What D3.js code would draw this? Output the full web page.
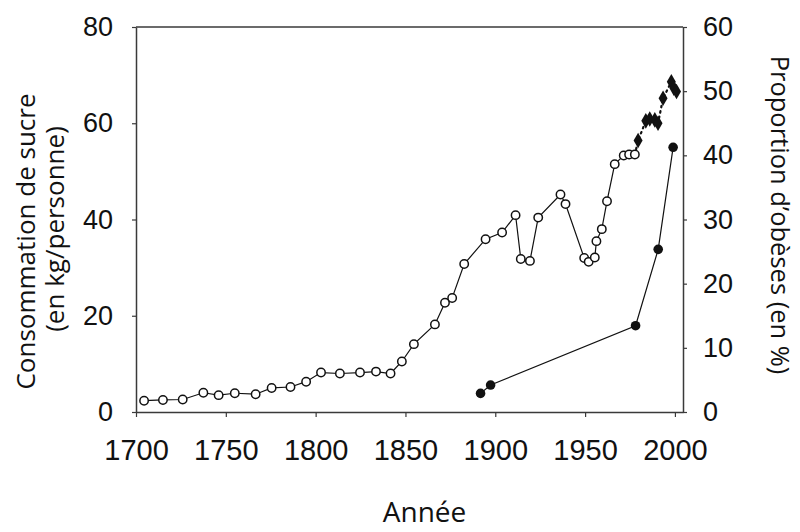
<!DOCTYPE html>
<html><head><meta charset="utf-8">
<script src="https://cdn.jsdelivr.net/npm/d3@7"></script>
<style>
html,body{margin:0;padding:0;background:#fff;}
svg{display:block;}
</style></head>
<body>
<svg id="chart" width="800" height="532"></svg>
<script>
// Sugar consumption (kg/person), historical series (open circles)
const sugarYears = [1704.5,1715,1726,1737.5,1746,1755,1766.6,1775.5,1786,1794.7,1803,1813.5,1824.7,1833.6,1841.7,1848,1854.7,1866.4,1872,1876,1882.7,1894.6,1903.8,1911.3,1914.2,1919.3,1923.9,1936.3,1939.1,1949.5,1952,1955.4,1956.3,1959.3,1962.2,1966.5,1971.5,1974.5,1977.7];
const sugarValues = [2.35,2.5,2.6,4.0,3.5,3.9,3.7,5.0,5.2,6.3,8.2,8.0,8.2,8.4,8.0,10.5,14.1,18.2,22.7,23.7,30.75,35.9,37.3,40.9,31.8,31.4,40.4,45.2,43.2,32.0,31.2,32.1,35.5,38.0,43.8,51.5,53.3,53.5,53.5];
// Sugar consumption, recent series (diamonds, dotted)
const recentYears = [1979.5,1983.8,1986,1988.8,1990.6,1993.4,1998,1999.4,2000.9];
const recentValues = [56.4,60.5,60.9,60.7,60.0,65.2,68.6,67.3,66.6];
// Obesity proportion (%) (filled circles, right axis)
const obeseYears = [1891.8,1897.4,1978.1,1990.7,1999];
const obeseValues = [2.9,4.2,13.45,25.35,41.25];
// Ticks
const xTicks = [1700,1750,1800,1850,1900,1950,2000];
const yLeftTicks = [0,20,40,60,80];
const yRightTicks = [0,10,20,30,40,50,60];

const svg = d3.select("#chart");
const L = 136, R = 683, T = 27, B = 412;
const x = d3.scaleLinear().domain([1700, 2004.5]).range([L, R]);
const yL = d3.scaleLinear().domain([0, 80]).range([B, T]);
const yR = d3.scaleLinear().domain([0, 60]).range([B, T]);

const axisColor = "#3a3a3a";
const tickFont = "'Liberation Sans', Arial, sans-serif";

// frame top line
svg.append("line").attr("x1", L).attr("x2", R).attr("y1", T).attr("y2", T)
  .attr("stroke", axisColor).attr("stroke-width", 1.5);

const gx = svg.append("g").attr("transform", `translate(0,${B})`)
  .call(d3.axisBottom(x).tickValues(xTicks).tickFormat(d3.format("d")).tickSize(5).tickSizeOuter(0).tickPadding(22));
const gl = svg.append("g").attr("transform", `translate(${L},0)`)
  .call(d3.axisLeft(yL).tickValues(yLeftTicks).tickSize(4).tickSizeOuter(0).tickPadding(19));
const gr = svg.append("g").attr("transform", `translate(${R},0)`)
  .call(d3.axisRight(yR).tickValues(yRightTicks).tickSize(4).tickSizeOuter(0).tickPadding(16));

[gx, gl, gr].forEach(g => {
  g.select(".domain").attr("stroke", axisColor).attr("stroke-width", 1.5);
  g.selectAll(".tick line").attr("stroke", axisColor).attr("stroke-width", 1.2);
  g.selectAll(".tick text").attr("fill", "#111").attr("font-family", tickFont);
});
gx.selectAll(".tick text").attr("font-size", 29);
gl.selectAll(".tick text").attr("font-size", 27);
gr.selectAll(".tick text").attr("font-size", 27);

// lines
const lineL = d3.line().x(d => x(d[0])).y(d => yL(d[1]));
const lineR = d3.line().x(d => x(d[0])).y(d => yR(d[1]));
const sugarPts = sugarYears.map((yr, i) => [yr, sugarValues[i]]);
const recentPts = recentYears.map((yr, i) => [yr, recentValues[i]]);
const obesePts = obeseYears.map((yr, i) => [yr, obeseValues[i]]);

// dotted connection for recent series
svg.append("path")
  .attr("d", lineL([sugarPts[sugarPts.length - 1]].concat(recentPts)))
  .attr("fill", "none").attr("stroke", "#111").attr("stroke-width", 2.2)
  .attr("stroke-dasharray", "1.5,4").attr("stroke-linecap", "round");

svg.append("path").attr("d", lineL(sugarPts))
  .attr("fill", "none").attr("stroke", "#111").attr("stroke-width", 1.2);
svg.append("path").attr("d", lineR(obesePts))
  .attr("fill", "none").attr("stroke", "#111").attr("stroke-width", 1.2);

// markers
svg.selectAll("circle.sugar").data(sugarPts).enter().append("circle")
  .attr("class", "sugar")
  .attr("cx", d => x(d[0])).attr("cy", d => yL(d[1])).attr("r", 4.2)
  .attr("fill", "#fff").attr("stroke", "#111").attr("stroke-width", 1.5);

svg.selectAll("path.recent").data(recentPts).enter().append("path")
  .attr("class", "recent")
  .attr("d", d3.symbol().type(d3.symbolDiamond).size(70))
  .attr("transform", d => `translate(${x(d[0])},${yL(d[1])})`)
  .attr("fill", "#111");

svg.selectAll("circle.obese").data(obesePts).enter().append("circle")
  .attr("class", "obese")
  .attr("cx", d => x(d[0])).attr("cy", d => yR(d[1])).attr("r", 4.8)
  .attr("fill", "#111");

// titles
const titleFont = "'Open Sans', 'Noto Sans', sans-serif";
svg.append("text").attr("x", 424.5).attr("y", 522).attr("text-anchor", "middle")
  .attr("font-family", titleFont).attr("font-size", 28).attr("fill", "#111").text("Année");
svg.append("text").attr("transform", "translate(35,241.5) rotate(-90)").attr("text-anchor", "middle")
  .attr("font-family", titleFont).attr("font-size", 26).attr("fill", "#111").text("Consommation de sucre");
svg.append("text").attr("transform", "translate(64,229) rotate(-90)").attr("text-anchor", "middle")
  .attr("font-family", titleFont).attr("font-size", 26).attr("fill", "#111").text("(en kg/personne)");
svg.append("text").attr("transform", "translate(771,215) rotate(90)").attr("text-anchor", "middle")
  .attr("font-family", titleFont).attr("font-size", 25.5).attr("fill", "#111").text("Proportion d’obèses (en %)");
</script>
</body></html>
